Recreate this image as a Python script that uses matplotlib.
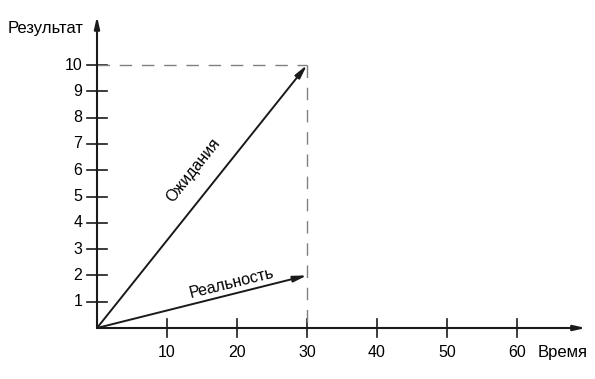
import matplotlib
matplotlib.use('Agg')
import matplotlib.pyplot as plt
import numpy as np

plt.rcParams['font.family'] = ['Liberation Sans Narrow', 'Liberation Sans', 'DejaVu Sans']

x_ticks = [10, 20, 30, 40, 50, 60]
y_ticks = [1, 2, 3, 4, 5, 6, 7, 8, 9, 10]
expect = (30, 10)
real = (30, 2)
x_label = 'Время'
y_label = 'Результат'
expect_label = 'Ожидания'
real_label = 'Реальность'

fig = plt.figure(figsize=(5.95, 3.79), dpi=100)
ax = fig.add_axes([0, 0, 1, 1])
ax.set_xlim(-97 / 7, (595 - 97) / 7)
ax.set_ylim(-(379 - 328) / 26.3, 328 / 26.3)
ax.axis('off')

FS = 11.5
arrow_kw = dict(arrowstyle='-|>,head_length=0.7,head_width=0.16', color='#1a1a1a',
                lw=1.5, shrinkA=0, shrinkB=0)

# axes with arrows
ax.annotate('', xy=(69.8, 0), xytext=(0, 0), arrowprops=arrow_kw)
ax.annotate('', xy=(0, 11.85), xytext=(0, 0), arrowprops=arrow_kw)

# ticks crossing the axes
for t in x_ticks:
    ax.plot([t, t], [-0.36, 0.36], color='#1a1a1a', lw=1.2)
    ax.text(t, -0.92, str(t), ha='center', va='center', fontsize=FS)
for t in y_ticks:
    ax.plot([-1.4, 1.4], [t, t], color='#1a1a1a', lw=1.2)
    ax.text(-2.1, t, str(t), ha='right', va='center', fontsize=FS)

# dashed guides
ax.plot([0, expect[0]], [expect[1], expect[1]], color='#808080', lw=1, dashes=(9, 7))
ax.plot([expect[0], expect[0]], [expect[1], 0], color='#808080', lw=1, dashes=(9, 7))

line_kw = dict(arrowstyle='-|>,head_length=0.8,head_width=0.18', color='#1a1a1a',
               lw=1.4, shrinkA=0, shrinkB=0)
ax.annotate('', xy=expect, xytext=(0, 0), arrowprops=line_kw)
ax.annotate('', xy=real, xytext=(0, 0), arrowprops=line_kw)

ax.text(13.7, 6.0, expect_label, rotation=51.5, ha='center', va='center', fontsize=FS)
ax.text(19.3, 1.71, real_label, rotation=14, ha='center', va='center', fontsize=FS)

ax.text(-7.3, 11.4, y_label, ha='center', va='center', fontsize=12)
ax.text(63.0, -0.92, x_label, ha='left', va='center', fontsize=12)

fig.savefig('out.png', dpi=100)
